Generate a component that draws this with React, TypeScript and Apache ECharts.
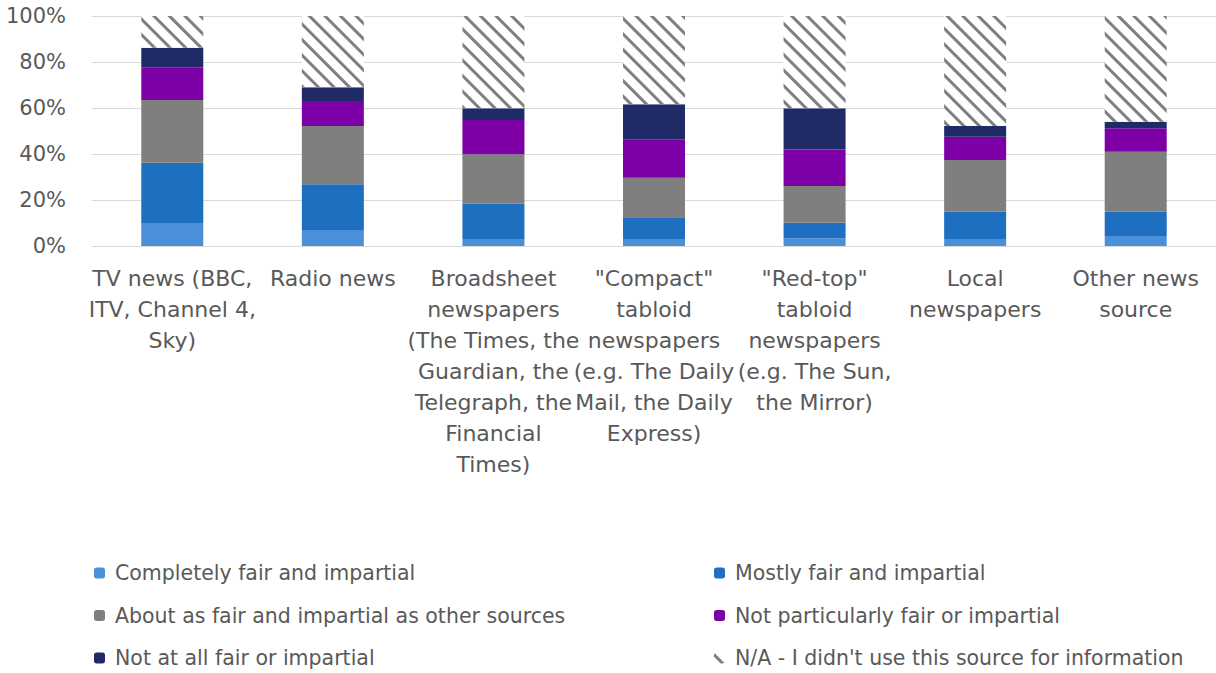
import React, { useEffect, useRef } from "react";
import * as echarts from "echarts";

const categories = [
  "TV news (BBC,\nITV, Channel 4,\nSky)",
  "Radio news",
  "Broadsheet\nnewspapers\n(The Times, the\nGuardian, the\nTelegraph, the\nFinancial\nTimes)",
  "\"Compact\"\ntabloid\nnewspapers\n(e.g. The Daily\nMail, the Daily\nExpress)",
  "\"Red-top\"\ntabloid\nnewspapers\n(e.g. The Sun,\nthe Mirror)",
  "Local\nnewspapers",
  "Other news\nsource",
];

const seriesNames = [
  "Completely fair and impartial",
  "Mostly fair and impartial",
  "About as fair and impartial as other sources",
  "Not particularly fair or impartial",
  "Not at all fair or impartial",
  "N/A - I didn't use this source for information",
];

const completely = [10, 7, 3, 3, 3.3, 3, 4.3];
const mostly = [26.2, 19.8, 15.5, 9.5, 6.8, 11.9, 10.6];
const aboutAs = [27.3, 25.4, 21.4, 17.2, 16, 22.5, 26.1];
const notParticularly = [14.2, 10.8, 14.9, 16.7, 15.9, 10.1, 10.2];
const notAtAll = [8.5, 6, 5.1, 15.2, 17.9, 4.7, 2.8];
const notApplicable = [13.8, 31, 40.1, 38.4, 40.1, 47.8, 46];

const colors = ["#4a90d9", "#1f6fc0", "#7f7f7f", "#7c00a6", "#1f2a66", "#ffffff"];

export default function App() {
  const ref = useRef<HTMLDivElement>(null);
  useEffect(() => {
    if (!ref.current) return;
    const chart = echarts.init(ref.current, null, { renderer: "svg" });
    const values = [completely, mostly, aboutAs, notParticularly, notAtAll, notApplicable];
    const font = "DejaVu Sans";
    const series = values.map((v, i) => {
      const s: any = {
        name: seriesNames[i],
        type: "bar",
        stack: "total",
        barWidth: 62,
        data: v,
        itemStyle: { color: colors[i] },
        emphasis: { disabled: true },
      };
      if (i === 5) {
        s.itemStyle = {
          color: "#ffffff",
          decal: {
            symbol: "rect",
            symbolSize: 1,
            color: "#7f7f7f",
            dashArrayX: [1, 0],
            dashArrayY: [3, 8],
            rotation: Math.PI / 4,
          },
        };
      }
      return s;
    });
    const legendText = {
      fontFamily: font,
      fontSize: 20.5,
      color: "#595959",
      lineHeight: 22,
      padding: [0, 0, 0, 5],
    };
    chart.setOption({
      animation: false,
      backgroundColor: "#ffffff",
      grid: { left: 92, top: 16, width: 1127, height: 230 },
      legend: [
        {
          data: [seriesNames[0], seriesNames[2], seriesNames[4]],
          orient: "vertical",
          left: 94,
          top: 562,
          padding: 0,
          itemWidth: 11,
          itemHeight: 11,
          itemGap: 20.5,
          selectedMode: false,
          textStyle: legendText,
        },
        {
          data: [seriesNames[1], seriesNames[3], seriesNames[5]],
          orient: "vertical",
          left: 714,
          top: 562,
          padding: 0,
          itemWidth: 11,
          itemHeight: 11,
          itemGap: 20.5,
          selectedMode: false,
          textStyle: legendText,
        },
      ],
      xAxis: {
        type: "category",
        data: categories,
        axisLine: { lineStyle: { color: "#d9d9d9" } },
        axisTick: { show: false },
        axisLabel: {
          interval: 0,
          margin: 17,
          fontFamily: font,
          fontSize: 22,
          lineHeight: 31,
          color: "#595959",
          align: "center",
        },
      },
      yAxis: {
        type: "value",
        min: 0,
        max: 100,
        interval: 20,
        axisLine: { show: false },
        axisTick: { show: false },
        splitLine: { lineStyle: { color: "#d9d9d9", width: 1 } },
        axisLabel: {
          formatter: "{value}%",
          margin: 26,
          fontFamily: font,
          fontSize: 21,
          color: "#595959",
        },
      },
      series,
    });
    return () => chart.dispose();
  }, []);
  return (
    <div
      ref={ref}
      style={{ position: "fixed", left: 0, top: 0, width: 1216, height: 673, background: "#fff" }}
    />
  );
}
